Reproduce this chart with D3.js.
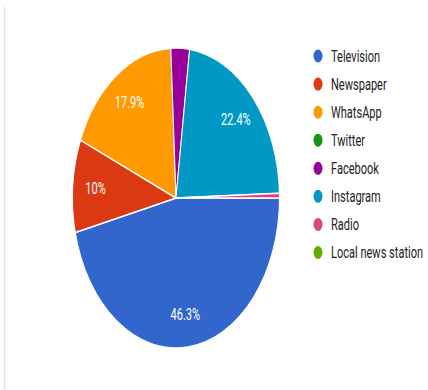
<!DOCTYPE html>
<html>
<head>
<meta charset="utf-8">
<script src="https://cdn.jsdelivr.net/npm/d3@7"></script>
<style>
  body { margin: 0; background: #fff; }
  svg { display: block; }
</style>
</head>
<body>
<svg></svg>
<script>
// chart data
var categories = ["Television", "Newspaper", "WhatsApp", "Twitter", "Facebook", "Instagram", "Radio", "Local news station"];
var shares = [46.3, 10, 17.9, 0, 2.9, 22.4, 0.5, 0];
var colors = ["#3366cc", "#dc3912", "#ff9900", "#109618", "#990099", "#0099c6", "#dd4477", "#66aa00"];

var width = 428, height = 390;
// the screenshot is squashed horizontally
var sx = 0.69;

var svg = d3.select("svg")
    .attr("width", width)
    .attr("height", height);

// frame line on the left + cut off title letter
svg.append("line")
    .attr("x1", 4.5).attr("x2", 4.5)
    .attr("y1", 7).attr("y2", height)
    .attr("stroke", "#e3e3e3")
    .attr("stroke-width", 1.5);

svg.append("text")
    .attr("x", 366).attr("y", -5)
    .attr("font-family", "Liberation Serif")
    .attr("font-size", 26)
    .attr("font-weight", "bold")
    .text("g");

var g = svg.append("g")
    .attr("transform", "scale(" + sx + ",1)");

var cx = 176 / sx, cy = 198, r = 150;

var data = categories.map(function(c, i) { return {name: c, value: shares[i], color: colors[i]}; });

var pie = d3.pie()
    .sort(null)
    .value(function(d) { return d.value; })
    .startAngle(Math.PI / 2)
    .endAngle(Math.PI / 2 + 2 * Math.PI);

var arc = d3.arc().innerRadius(0).outerRadius(r);
var labelArc = d3.arc().innerRadius(r * 0.78).outerRadius(r * 0.78);

var pg = g.append("g")
    .attr("transform", "translate(" + cx + "," + cy + ")");

var arcs = pie(data);

pg.selectAll("path")
  .data(arcs.filter(function(d) { return d.data.value > 0; }))
  .enter()
  .append("path")
    .attr("d", arc)
    .attr("fill", function(d) { return d.data.color; })
    .attr("stroke", "#fff")
    .attr("stroke-width", 1.5);

pg.selectAll("text")
  .data(arcs.filter(function(d) { return d.data.value >= 5; }))
  .enter()
  .append("text")
    .attr("transform", function(d) { return "translate(" + labelArc.centroid(d) + ")"; })
    .attr("text-anchor", "middle")
    .attr("dy", "0.35em")
    .attr("fill", "#fff")
    .attr("font-family", "Roboto")
    .attr("font-size", 16)
    .text(function(d) { return d3.format(".3~")(d.data.value) + "%"; });

// legend
var legendY = d3.scalePoint()
    .domain(categories)
    .range([56, 252.5]);

var lg = g.append("g");
var item = lg.selectAll("g")
  .data(data)
  .enter()
  .append("g")
    .attr("transform", function(d) { return "translate(" + (318 / sx) + "," + legendY(d.name) + ")"; });

item.append("circle")
    .attr("r", 6.5)
    .attr("fill", function(d) { return d.color; });

item.append("text")
    .attr("x", 13 / sx)
    .attr("dy", "0.36em")
    .attr("font-family", "Roboto")
    .attr("font-size", 16)
    .attr("fill", "#222")
    .text(function(d) { return d.name; });
</script>
</body>
</html>
